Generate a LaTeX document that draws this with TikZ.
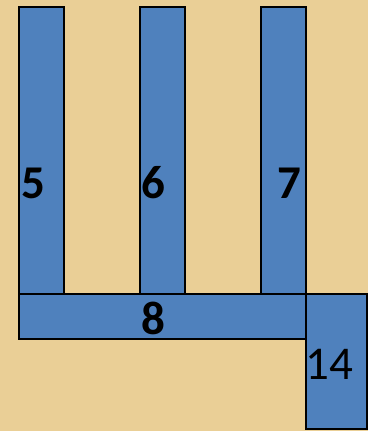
\documentclass[tikz,border=0pt]{standalone}
\usepackage{fontspec}
\setmainfont{Carlito}
\usepackage{tikz}
\usetikzlibrary{positioning}
\definecolor{PapyrusColor}{HTML}{EACF96}
\definecolor{BarBlue}{HTML}{4F81BD}

\begin{document}
\begin{tikzpicture}[x=1pt,y=-1pt,
    bar/.style={draw=black,line width=2pt,fill=BarBlue,inner sep=0pt,anchor=north west},
    num/.style={font=\fontsize{47}{47}\selectfont\bfseries,inner sep=0pt}]
  \fill[PapyrusColor](0,0)rectangle(368,431);
  \useasboundingbox(0,0)rectangle(368,431);
  % vertical bars
  \foreach \nm/\x in {five/18,six/139,seven/260}{
    \node[bar,minimum width=45pt,minimum height=287pt](\nm)at(\x,6){};}
  % bottom bars
  \node[bar,minimum width=287pt,minimum height=45pt](eight)at(18,293){};
  \node[bar,minimum width=61pt,minimum height=135pt](fourteen)at(305,293){};
  \node[num](lfive)at(33,183){5};
  \node[num](lsix)at(153,183){6};
  \node[num](lseven)at(289,183){7};
  \node[num](leight)at(153,318){8};
  \node[num,font=\fontsize{47}{47}\selectfont](lfourteen)at(329,364){14};
\end{tikzpicture}
\end{document}
